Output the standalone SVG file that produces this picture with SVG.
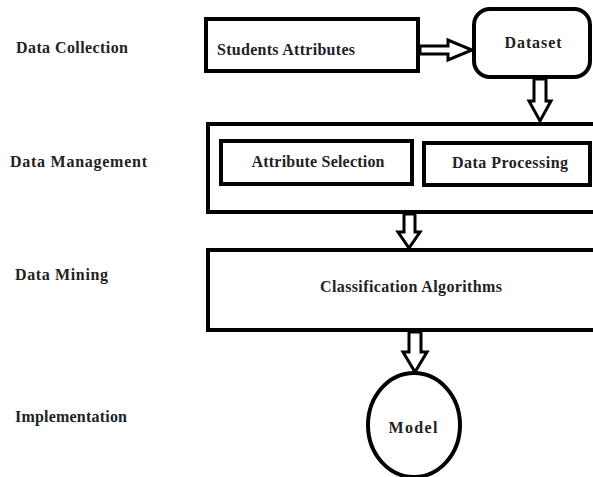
<svg xmlns="http://www.w3.org/2000/svg" width="593" height="477" viewBox="0 0 593 477">
<style>
.box{fill:#fff;stroke:#000;stroke-width:4}
.arr{fill:#fff;stroke:#000;stroke-width:3;stroke-linejoin:miter}
text{font-family:"Liberation Serif","DejaVu Serif",serif;font-weight:bold;font-size:16px;fill:#222}
.c{text-anchor:middle}
</style>
<rect width="593" height="477" fill="#fff"/>
<g id="labels">
<text x="16" y="53" textLength="112">Data Collection</text>
<text x="10" y="167" textLength="137">Data Management</text>
<text x="15" y="280" textLength="93">Data Mining</text>
<text x="15" y="422" textLength="112">Implementation</text>
</g>
<g id="students"><rect class="box" x="206" y="19" width="212" height="52"/><text x="286" y="55" class="c" textLength="138">Students Attributes</text></g>
<g id="dataset"><rect class="box" x="474" y="9" width="116" height="68" rx="16"/><text x="533" y="48" class="c" textLength="57">Dataset</text></g>
<g id="management"><rect class="box" x="208" y="124" width="395" height="88"/></g>
<g id="attrsel"><rect class="box" x="221" y="141" width="191" height="43"/><text x="318" y="167" class="c" textLength="133">Attribute Selection</text></g>
<g id="dataproc"><rect class="box" x="424" y="143" width="166" height="42"/><text x="510" y="168" class="c" textLength="116">Data Processing</text></g>
<g id="classification"><rect class="box" x="208" y="250" width="395" height="80"/><text x="411" y="292" class="c" textLength="182">Classification Algorithms</text></g>
<g id="model"><ellipse class="box" cx="414" cy="425" rx="46" ry="52"/><text x="413" y="433" class="c" textLength="49">Model</text></g>
<g id="connectors">
<path class="arr" d="M420,46 H448 V40 L472,50 L448,60 V54 H420 Z"/>
<path class="arr" d="M534,79 V101 H529 L540,121 L551,101 H546 V79 Z"/>
<path class="arr" d="M404,214 V232 H398 L409,248 L420,232 H415 V214 Z"/>
<path class="arr" d="M409,332 V352 H403 L415,372 L427,352 H421 V332 Z"/>
</g>
</svg>
